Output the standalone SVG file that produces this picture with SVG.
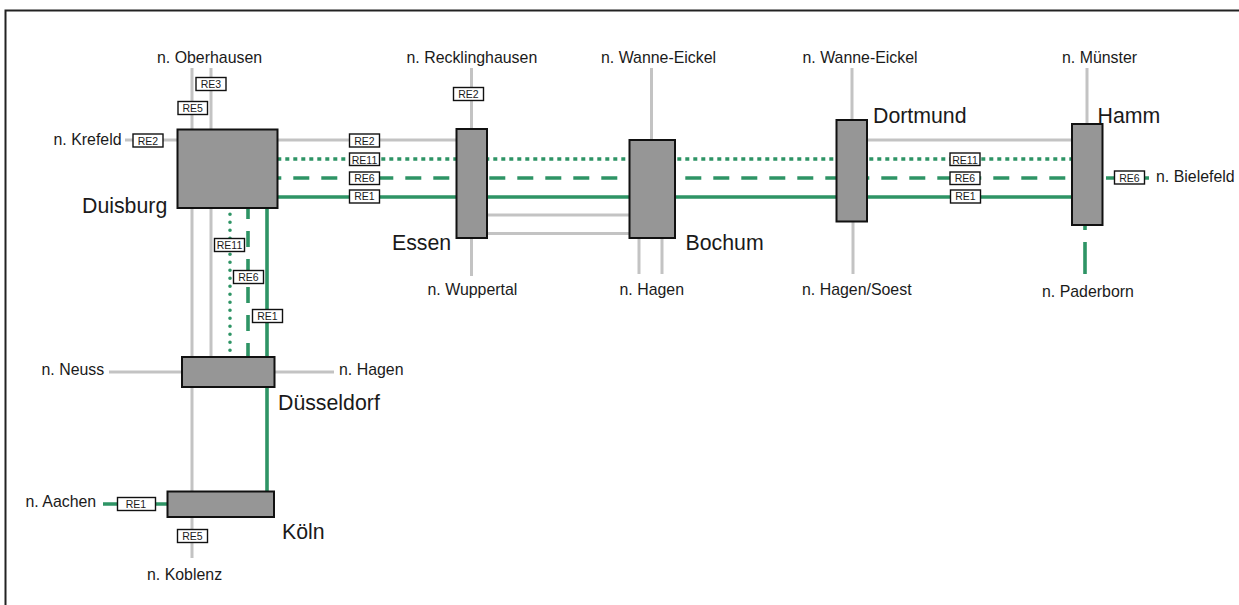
<svg xmlns="http://www.w3.org/2000/svg" width="1239" height="605" viewBox="0 0 1239 605">
<style>
text{font-family:"Liberation Sans",Arial,sans-serif;fill:#1a1a1a}
.s{font-size:15.9px}
.b{font-size:21.3px}
.t{font-size:10.5px;text-anchor:middle}
.g{stroke:#c3c3c3;stroke-width:3;fill:none}
.e{stroke:#2e9465;stroke-width:3.6;fill:none}
.dot{stroke-dasharray:4 4}
.vdot{stroke-linecap:round;stroke-dasharray:0 8}
.dash{stroke-dasharray:16 12}
.st{fill:#969696;stroke:#111;stroke-width:2}
.l{fill:#fff;stroke:#111;stroke-width:1.4}
</style>
<rect x="5.500" y="10.500" width="1240" height="600" fill="#fff" stroke="#222" stroke-width="2"/>
<g id="connectors">
<path class="g" d="M192 68V558M211 68V357M125 140H177M277 140H457M109 372H182M275 372H334M471.500 68V129M471.500 238V276M487 215H629M487 233.500H629M651.500 68V140M639 238V274M662 238V274M852 68V120M853 221V274M867 140H1072M1087 68V124"/>
<path class="e dot" d="M277.300 159H1072"/>
<path class="e dash" style="stroke-dashoffset:11.700" d="M277 178H1072"/>
<path class="e" d="M277 197H1072M267 208V491M103 504H167"/>
<path class="e vdot" d="M230 214.300V352"/>
<path class="e dash" style="stroke-dashoffset:5" d="M248 208V357"/>
<path class="e" d="M1106 178H1149M1085 225V230M1085 242V274"/>
</g>
<g id="labels">
<g><rect class="l" x="196" y="77.500" width="30" height="13"/><text class="t" x="211" y="88">RE3</text></g>
<g><rect class="l" x="178" y="101.500" width="29.500" height="13"/><text class="t" x="192.700" y="112">RE5</text></g>
<g><rect class="l" x="133" y="134" width="30" height="13"/><text class="t" x="148" y="144.500">RE2</text></g>
<g><rect class="l" x="349.500" y="134" width="30" height="13"/><text class="t" x="364.500" y="144.500">RE2</text></g>
<g><rect class="l" x="349.500" y="153" width="30" height="12.500"/><text class="t" x="364.500" y="163.500">RE11</text></g>
<g><rect class="l" x="349.500" y="172" width="30" height="12.500"/><text class="t" x="364.500" y="182">RE6</text></g>
<g><rect class="l" x="349.500" y="190" width="30" height="13"/><text class="t" x="364.500" y="200">RE1</text></g>
<g><rect class="l" x="214.500" y="238.500" width="30" height="13"/><text class="t" x="229.500" y="249">RE11</text></g>
<g><rect class="l" x="233.500" y="270.500" width="30" height="13"/><text class="t" x="248.500" y="281">RE6</text></g>
<g><rect class="l" x="252.500" y="309.500" width="30" height="13"/><text class="t" x="267.500" y="320">RE1</text></g>
<g><rect class="l" x="117.500" y="497.500" width="38" height="13"/><text class="t" x="136" y="508">RE1</text></g>
<g><rect class="l" x="177.500" y="529.500" width="30" height="13"/><text class="t" x="192.500" y="540">RE5</text></g>
<g><rect class="l" x="453.500" y="87.500" width="30" height="13"/><text class="t" x="468.500" y="98">RE2</text></g>
<g><rect class="l" x="950" y="153" width="30" height="12.500"/><text class="t" x="965" y="163.500">RE11</text></g>
<g><rect class="l" x="950" y="172" width="30" height="12.500"/><text class="t" x="965" y="182">RE6</text></g>
<g><rect class="l" x="950.500" y="190" width="30" height="13"/><text class="t" x="965.500" y="200">RE1</text></g>
<g><rect class="l" x="1114.500" y="171" width="30" height="13"/><text class="t" x="1129.500" y="181.500">RE6</text></g>
</g>
<g id="duisburg"><rect class="st" x="177.500" y="129.500" width="100" height="78.500"/><text class="b" x="82" y="212.500">Duisburg</text></g>
<g id="duesseldorf"><rect class="st" x="182" y="357" width="92.500" height="30"/><text class="b" x="278" y="410">Düsseldorf</text></g>
<g id="koeln"><rect class="st" x="167.500" y="491.500" width="106.500" height="25.500"/><text class="b" x="282" y="538.500">Köln</text></g>
<g id="essen"><rect class="st" x="456.500" y="129" width="30.500" height="109"/><text class="b" x="392" y="250">Essen</text></g>
<g id="bochum"><rect class="st" x="629.500" y="140" width="45.500" height="98"/><text class="b" x="685.500" y="250">Bochum</text></g>
<g id="dortmund"><rect class="st" x="836.500" y="120" width="30.500" height="101.500"/><text class="b" x="873" y="122.500">Dortmund</text></g>
<g id="hamm"><rect class="st" x="1072" y="124" width="30.500" height="101"/><text class="b" x="1097.500" y="122.500">Hamm</text></g>
<g id="destinations">
<text class="s" x="157" y="63">n. Oberhausen</text>
<text class="s" x="53.500" y="144.500">n. Krefeld</text>
<text class="s" x="41.500" y="375">n. Neuss</text>
<text class="s" x="339" y="375">n. Hagen</text>
<text class="s" x="25.500" y="507">n. Aachen</text>
<text class="s" x="147" y="580">n. Koblenz</text>
<text class="s" x="406.500" y="63">n. Recklinghausen</text>
<text class="s" x="601" y="63">n. Wanne-Eickel</text>
<text class="s" x="802.500" y="63">n. Wanne-Eickel</text>
<text class="s" x="1062" y="63">n. Münster</text>
<text class="s" x="427.500" y="295">n. Wuppertal</text>
<text class="s" x="619.500" y="295">n. Hagen</text>
<text class="s" x="802" y="295">n. Hagen/Soest</text>
<text class="s" x="1042" y="296.500">n. Paderborn</text>
<text class="s" x="1156" y="182">n. Bielefeld</text>
</g>
</svg>
